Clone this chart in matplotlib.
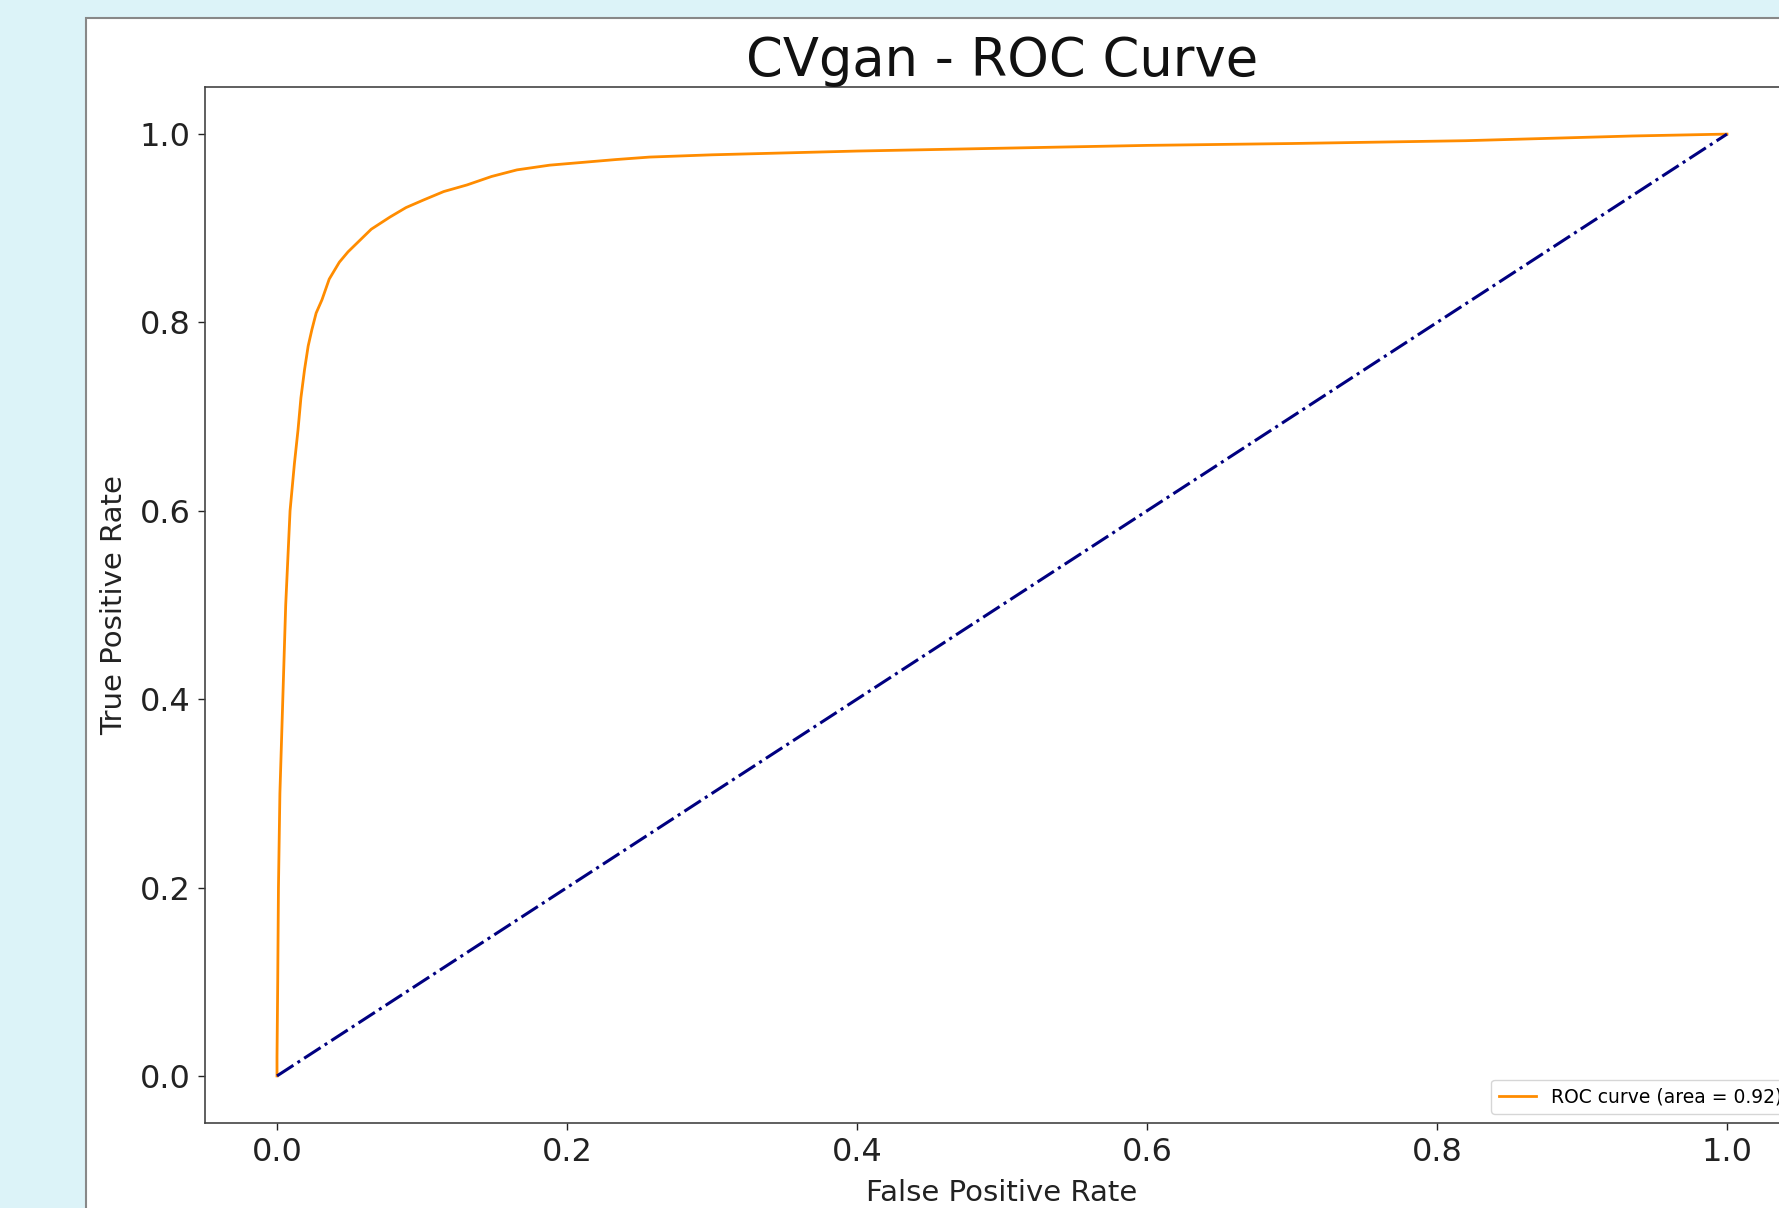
import matplotlib
matplotlib.use("Agg")
import matplotlib.pyplot as plt
from matplotlib.patches import Rectangle

# ROC points
fpr = [0.0, 0.0, 0.0005, 0.001, 0.002, 0.004, 0.006, 0.009, 0.012, 0.0145,
       0.0165, 0.019, 0.0215, 0.024, 0.027, 0.031, 0.036, 0.043, 0.049, 0.055,
       0.065, 0.078, 0.089, 0.101, 0.115, 0.131, 0.148, 0.1655, 0.188, 0.211,
       0.234, 0.257, 0.3, 0.4, 0.5, 0.6, 0.7, 0.82, 0.935, 1.0]
tpr = [0.0, 0.02, 0.1, 0.2, 0.3, 0.4, 0.5, 0.6, 0.65, 0.686,
       0.72, 0.75, 0.775, 0.792, 0.81, 0.824, 0.846, 0.864, 0.875, 0.884,
       0.899, 0.912, 0.922, 0.930, 0.939, 0.946, 0.955, 0.962, 0.967, 0.970,
       0.973, 0.9756, 0.978, 0.982, 0.985, 0.988, 0.990, 0.993, 0.998, 1.0]
diag = [0.0, 1.0]
roc_auc = 0.92
ticks = [0.0, 0.2, 0.4, 0.6, 0.8, 1.0]

W, H = 1779, 1208
fig = plt.figure(figsize=(W / 100, H / 100), dpi=100, facecolor="#dcf3f8")

# white notebook-style panel behind the plot
fig.add_artist(Rectangle((86 / W, -0.02), 1.05, 1 - 18 / H + 0.02,
                         transform=fig.transFigure, facecolor="white",
                         edgecolor="#888888", lw=1.5, zorder=0))

ax = fig.add_axes([204.5 / W, (H - 1123) / H, 1595 / W, 1036 / H])
ax.set_facecolor("white")

ax.plot(fpr, tpr, color="darkorange", lw=2,
        label="ROC curve (area = %0.2f)" % roc_auc)
ax.plot(diag, diag, color="navy", lw=2.2, linestyle="-.")

ax.set_xlim(-0.05, 1.05)
ax.set_ylim(-0.05, 1.05)
ax.set_xticks(ticks)
ax.set_yticks(ticks)
ax.tick_params(labelsize=23, length=5, width=1, pad=5, colors="#222222")
for s in ax.spines.values():
    s.set_linewidth(1.2)
    s.set_color("#444444")

ax.set_xlabel("False Positive Rate", fontsize=21, labelpad=8, color="#222222")
ax.set_ylabel("True Positive Rate", fontsize=21, labelpad=8, color="#222222")
ax.set_title("CVgan - ROC Curve", fontsize=38, pad=0.5, color="#111111")
ax.legend(loc="lower right", fontsize=13.5)

plt.savefig("out.png", dpi=100, facecolor=fig.get_facecolor())
